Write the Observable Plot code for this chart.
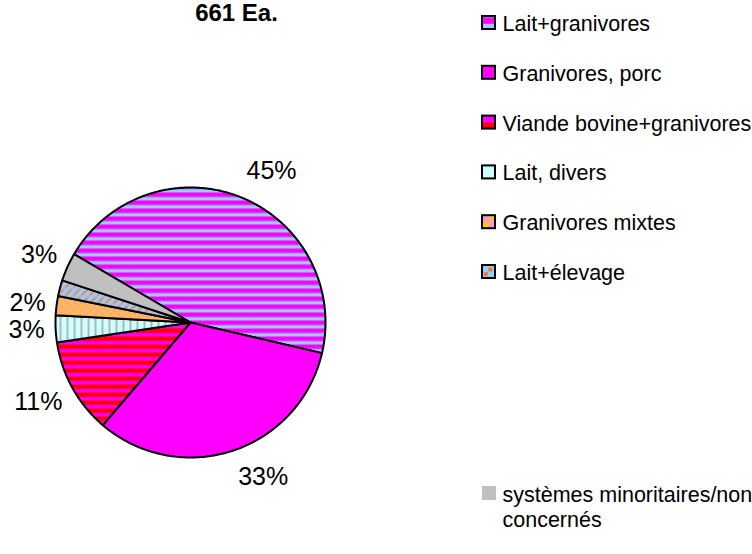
<!DOCTYPE html>
<html>
<head>
<meta charset="utf-8">
<script src="https://cdn.jsdelivr.net/npm/d3@7"></script>
<script src="https://cdn.jsdelivr.net/npm/@observablehq/plot@0.6"></script>
<style>
  body { margin: 0; background: #fff; }
  #chart svg { display: block; font-family: "Liberation Sans", Arial, sans-serif; }
</style>
</head>
<body>
<svg width="0" height="0" style="position:absolute">
  <defs>
    <pattern id="p-lg" patternUnits="userSpaceOnUse" width="8" height="8">
      <rect width="8" height="8" fill="#99ccff"/>
      <rect width="8" height="4" fill="#ff00ff"/>
      <rect y="4" width="8" height="1" fill="#cc66ff"/>
    </pattern>
    <pattern id="p-gp" patternUnits="userSpaceOnUse" width="8" height="8">
      <rect width="8" height="8" fill="#ff00ff"/>
    </pattern>
    <pattern id="p-vb" patternUnits="userSpaceOnUse" width="8" height="8">
      <rect width="8" height="8" fill="#ff00ff"/>
      <rect width="8" height="4.5" fill="#ff0000"/>
    </pattern>
    <pattern id="p-ld" patternUnits="userSpaceOnUse" width="7" height="7">
      <rect width="7" height="7" fill="#ccffff"/>
      <rect x="3" width="2" height="7" fill="#b4b4b4"/>
    </pattern>
    <pattern id="p-gm" patternUnits="userSpaceOnUse" width="8" height="8">
      <rect width="8" height="8" fill="#ff99cc"/>
      <rect width="4" height="4" fill="#ffcc00"/>
      <rect x="4" y="4" width="4" height="4" fill="#ffcc00"/>
    </pattern>
    <pattern id="p-le" patternUnits="userSpaceOnUse" width="8" height="8">
      <rect width="8" height="8" fill="#99ccff"/>
      <path d="M-2,2 L2,-2 M1,7 L7,1 M6,10 L10,6" stroke="#ee8844" stroke-width="2"/>
    </pattern>
    <pattern id="leg-lg" width="1" height="1" patternContentUnits="objectBoundingBox">
      <rect width="1" height="1" fill="#99ccff"/>
      <rect y="0.1" width="1" height="0.5" fill="#ff00ff"/>
    </pattern>
    <pattern id="leg-vb" width="1" height="1" patternContentUnits="objectBoundingBox">
      <rect width="1" height="1" fill="#ff0000"/>
      <rect width="1" height="0.55" fill="#ff00ff"/>
    </pattern>
    <pattern id="leg-gm" width="1" height="1" patternContentUnits="objectBoundingBox">
      <rect width="1" height="1" fill="#ff99cc"/>
      <rect y="0.5" width="0.5" height="0.5" fill="#ffcc00"/>
      <rect x="0.6" y="0" width="0.4" height="0.35" fill="#ffcc00"/>
    </pattern>
    <pattern id="leg-le" width="1" height="1" patternContentUnits="objectBoundingBox">
      <rect width="1" height="1" fill="#99ccff"/>
      <rect x="0.15" y="0.55" width="0.3" height="0.3" fill="#ee7733"/>
      <rect x="0.5" y="0.2" width="0.3" height="0.3" fill="#ee7733"/>
    </pattern>
  </defs>
</svg>
<div id="chart"></div>
<script>
// ---- data ----
const title = "661 Ea.";
const categories = [
  "Lait+granivores",
  "Granivores, porc",
  "Viande bovine+granivores",
  "Lait, divers",
  "Granivores mixtes",
  "Lait+élevage",
  "systèmes minoritaires/non\nconcernés"
];
const shares = [45.2, 32.6, 11.4, 3.2, 2.3, 1.9, 3.4];
const shownLabels = ["45%", "33%", "11%", "3%", "2%", "", "3%"];
const sliceFills = ["url(#p-lg)", "url(#p-gp)", "url(#p-vb)", "url(#p-ld)", "url(#p-gm)", "url(#p-le)", "#c0c0c0"];
const legendFills = ["url(#leg-lg)", "#ff00ff", "url(#leg-vb)", "#ccffff", "url(#leg-gm)", "url(#leg-le)", "#c0c0c0"];

// ---- layout ----
const W = 752, H = 554;
const cx = 190, cy = 322, R = 135;
const a0 = -59.6 * Math.PI / 180;
const font = "Liberation Sans, Arial, sans-serif";

const arcs = d3.pie().sort(null).value(d => d).startAngle(a0).endAngle(a0 + 2 * Math.PI)(shares);

const sliceMarks = arcs.map((a, i) => {
  const n = Math.max(2, Math.ceil((a.endAngle - a.startAngle) * 180 / Math.PI * 2));
  const pts = [{x: cx, y: cy}];
  for (let j = 0; j <= n; j++) {
    const t = a.startAngle + (a.endAngle - a.startAngle) * j / n;
    pts.push({x: cx + R * Math.sin(t), y: cy - R * Math.cos(t)});
  }
  pts.push({x: cx, y: cy});
  return Plot.line(pts, {x: "x", y: "y", fill: sliceFills[i], stroke: "#000", strokeWidth: 2, strokeLinejoin: "round"});
});

const labels = arcs.map((a, i) => {
  const t = (a.startAngle + a.endAngle) / 2;
  const s = Math.sin(t), c = Math.cos(t);
  return {text: shownLabels[i], right: s > 0, x: cx + (R + 8) * s + (s > 0 ? 3 : -3), y: cy - (R + 28) * c};
});
for (const side of [true, false]) {
  const L = labels.filter(d => d.right === side).sort((p, q) => p.y - q.y);
  for (let k = 1; k < L.length; k++) if (L[k].y - L[k - 1].y < 22) L[k].y = L[k - 1].y + 22;
}

const legendTop = 22.5, legendStep = 49.8, lastRowY = 493, lineH = 25;
const legendRows = categories.map((c, i) => {
  const y = i < categories.length - 1 ? legendTop + i * legendStep : lastRowY;
  const lines = c.split("\n").length;
  return {i, text: c, y, ty: y + (lines - 1) * lineH / 2};
});
const boxed = legendRows.filter(d => d.i < categories.length - 1);
const plain = legendRows.filter(d => d.i === categories.length - 1);

const chart = Plot.plot({
  width: W, height: H,
  margin: 0,
  x: {domain: [0, W], range: [0, W], axis: null},
  y: {domain: [0, H], range: [0, H], axis: null},
  style: {fontFamily: font, background: "#fff", overflow: "visible"},
  marks: [
    ...sliceMarks,
    Plot.text(labels.filter(d => d.right), {x: "x", y: "y", text: "text", textAnchor: "start", fontSize: 25, fill: "#000", fontFamily: font}),
    Plot.text(labels.filter(d => !d.right), {x: "x", y: "y", text: "text", textAnchor: "end", fontSize: 25, fill: "#000", fontFamily: font}),
    Plot.text([title], {x: () => 236, y: () => 13, text: d => d, fontSize: 24, fontWeight: "bold", fill: "#000", fontFamily: font}),
    Plot.rect(boxed, {x1: () => 482, x2: () => 495, y1: d => d.y - 6.5, y2: d => d.y + 6.5, fill: d => legendFills[d.i], stroke: "#000", strokeWidth: 2}),
    Plot.rect(plain, {x1: () => 482, x2: () => 496, y1: d => d.y - 7, y2: d => d.y + 7, fill: d => legendFills[d.i]}),
    Plot.text(legendRows, {x: () => 502, y: "ty", text: "text", textAnchor: "start", fontSize: 21.5, lineHeight: lineH / 21.5, fill: "#000", fontFamily: font})
  ]
});
document.getElementById("chart").appendChild(chart);
</script>
</body>
</html>
